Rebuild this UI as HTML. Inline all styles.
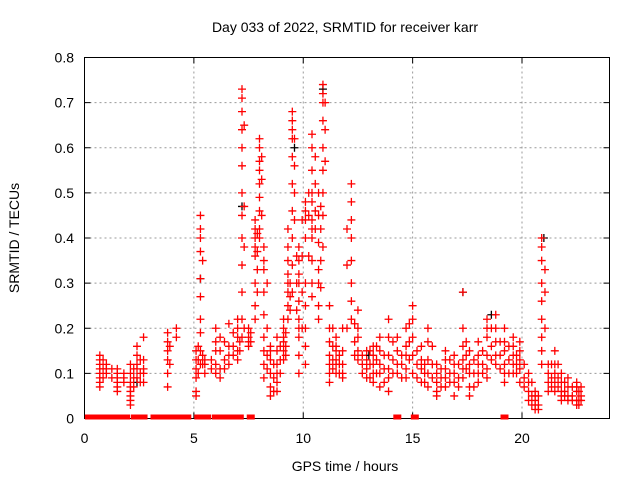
<!DOCTYPE html>
<html><head><meta charset="utf-8"><style>
body{margin:0;background:#fff;}
svg text{font-family:"Liberation Sans",sans-serif;font-size:14px;fill:#000;}
</style></head><body>
<svg id="chart" width="640" height="480" xmlns="http://www.w3.org/2000/svg">
<text x="345" y="32" text-anchor="middle">Day 033 of 2022, SRMTID for receiver karr</text>
<text x="345" y="471" text-anchor="middle">GPS time / hours</text>
<text transform="translate(19,238) rotate(-90)" text-anchor="middle">SRMTID / TECUs</text>
<g id="grid"></g>
<g id="ticks"></g>
<rect x="84.5" y="57.5" width="525" height="361" fill="none" stroke="#000" stroke-width="1"/>
<g id="marks"></g>
</svg>
<script>
const xTicks=[0,5,10,15,20];
const yTicks=[0,0.1,0.2,0.3,0.4,0.5,0.6,0.7,0.8];
const yTickLabels=["0","0.1","0.2","0.3","0.4","0.5","0.6","0.7","0.8"];
const clusterTimes=[0.7,1.0,1.5,1.8,2.1,2.4,2.7,3.8,4.2,5.1,5.3,5.5,6.0,6.2,6.6,7.0,7.2,7.5,7.8,8.0,8.2,8.5,8.8,9.1,9.3,9.5,9.8,10.1,10.4,10.7,10.9,11.2,11.5,11.8,12.2,12.5,12.9,13.2,13.5,13.9,14.3,14.7,15.0,15.4,15.7,16.1,16.5,16.9,17.3,17.6,18.0,18.4,18.8,19.2,19.6,19.9,20.3,20.6,20.9,21.2,21.5,21.8,22.1,22.5,22.7,
0.85,1.25,2.25,2.55,3.9,5.2,5.4,5.8,6.4,6.8,7.1,7.3,7.6,7.9,8.1,8.35,8.65,8.95,9.2,9.4,9.6,9.7,9.95,10.25,10.55,10.8,11.0,11.35,11.65,12.0,12.35,12.7,13.05,13.35,13.7,14.1,14.5,14.85,15.2,15.55,15.9,16.3,16.7,17.1,17.45,17.8,18.2,18.6,19.0,19.4,19.75,20.1,20.45,20.75,21.05,21.35,21.65,21.95,22.3,22.6];
const clusterValues=[
[.14,.12,.10,.08,.07,.13,.11,.09],[.12,.10,.11],[.10,.08,.07,.06,.09,.11],[.09,.10,.08],
[.12,.10,.07,.06,.05,.04,.03,.08],[.14,.12,.09,.16,.11],[.13,.10,.08,.11,.18],[.17,.19,.15,.13,.10,.07],
[.18,.20],[.15,.13,.11,.09,.06,.05],[.45,.42,.40,.37,.31,.27,.22,.19,.15,.12],[.12,.13,.10],
[.20,.17,.15,.12,.10],[.18,.15,.11,.09],[.16,.14,.12,.21],[.15,.13,.18,.20,.22],
[.73,.71,.68,.64,.60,.56,.50,.45,.40,.34,.28,.22,.18],[.20,.18,.17,.16],[.42,.40,.38,.44,.36,.30,.25,.22],
[.62,.60,.57,.55,.52,.49,.46,.42,.40],[.38,.35,.33,.28,.23,.18,.15,.12,.09],[.07,.05,.10,.13,.16,.15],
[.12,.10,.08,.06,.15,.18],[.20,.18,.17,.15,.13,.22],[.25,.30,.35,.28,.32,.38,.42,.22],
[.68,.66,.64,.62,.58,.52,.46,.40,.34,.28],[.38,.35,.32,.30,.26,.22,.20,.18,.14,.10],
[.48,.46,.44,.40,.30,.25,.20,.16,.12],[.63,.60,.55,.50,.48,.44,.42,.40,.35,.30,.27],
[.50,.45,.39,.33,.30,.25,.22],[.74,.72,.70,.66,.60,.55,.50,.45,.38],[.25,.20,.17,.14,.12,.10,.08],
[.18,.16,.15,.13,.12,.10],[.20,.15,.12,.10,.09],[.52,.48,.44,.40,.35,.30,.26,.22],[.24,.20,.18,.15,.13],
[.15,.13,.11,.09],[.14,.12,.10,.08,.16],[.18,.15,.12,.10,.07],[.22,.18,.14,.11,.09,.06],
[.18,.15,.12,.10],[.20,.16,.14,.11,.09],[.25,.22,.18,.14,.10],[.16,.13,.11,.08],[.20,.17,.13,.10,.07],
[.12,.10,.08,.06,.05],[.15,.13,.11,.09,.07],[.14,.12,.10,.08,.05],[.28,.20,.16,.13,.11,.09],
[.15,.12,.10,.07,.05],[.17,.14,.12,.10,.08],[.22,.20,.18,.14,.11,.09],[.23,.20,.17,.14,.12],
[.20,.17,.15,.12,.10,.08],[.18,.16,.14,.12,.10],[.17,.15,.13,.11,.08],[.10,.08,.06,.04],
[.06,.04,.03,.02,.05],[.40,.38,.35,.30,.26,.22,.18,.15,.12],[.10,.08,.06,.12],[.15,.12,.10,.08,.06],
[.10,.08,.06,.05,.04],[.09,.07,.05,.04],[.08,.06,.04,.03,.07],[.07,.05,.04],
[.13,.11,.09],[.11,.09],[.11,.09,.07],[.13,.10,.08],[.16,.12],[.16,.13,.10],[.35,.14,.12],[.13,.11],
[.17,.13,.11],[.19,.16,.14],[.17,.15],[.65,.47,.38,.20],[.19,.17],[.41,.37,.33,.28],[.58,.53,.45],
[.30,.20,.14,.11],[.12,.09,.06],[.16,.13,.10],[.19,.16,.14],[.30,.27,.24],[.62,.56,.50,.44],[.36,.30,.24],
[.44,.36,.28,.20],[.50,.45,.36],[.58,.52,.46,.42],[.47,.42,.35,.29],[.70,.64,.57],[.20,.16,.13,.11],
[.14,.12,.10],[.42,.34,.20],[.21,.17,.14],[.14,.12,.10],[.15,.12,.09],[.16,.13,.10],[.14,.11,.08],
[.17,.13,.10],[.14,.12,.09],[.21,.17,.13],[.15,.12,.09],[.12,.10,.08],[.16,.12,.09],[.11,.09,.07],
[.13,.10,.08],[.12,.09,.07],[.17,.14,.11],[.13,.10,.07],[.15,.12,.10],[.20,.16,.13],[.17,.14,.11],
[.16,.13,.10],[.14,.12,.10],[.12,.09,.07],[.08,.05,.03],[.05,.03,.02],[.33,.28,.20],[.12,.09,.07],
[.12,.09,.07],[.08,.06,.05],[.07,.05,.04],[.06,.04,.03]];
const zeroTimes=[0.2,0.3,0.4,0.6,0.9,1.0,1.1,1.3,1.5,1.6,1.7,1.9,2.3,2.5,2.7,3.2,3.3,3.6,3.8,4.0,4.2,4.3,4.5,4.7,5.2,5.4,5.6,6.0,6.2,6.4,6.6,6.8,7.1,7.6,14.3,15.1,19.2];
const blackTimes=[5.3,7.2,9.6,10.9,17.3,18.6,2.4,13.0,21.0];
const blackValues=[.31,.47,.60,.73,.28,.23,.08,.14,.40];
const X0=84.5,X1=609.5,Y0=418.5,Y1=57.5,XMAX=24,YMAX=0.8;
const sx=t=>X0+(X1-X0)*t/XMAX, sy=v=>Y0-(Y0-Y1)*v/YMAX;
const NS="http://www.w3.org/2000/svg";
const grid=document.getElementById('grid'),ticks=document.getElementById('ticks'),marks=document.getElementById('marks');
function ln(p,x1,y1,x2,y2,st,da){const l=document.createElementNS(NS,'line');l.setAttribute('x1',x1);l.setAttribute('y1',y1);l.setAttribute('x2',x2);l.setAttribute('y2',y2);l.setAttribute('stroke',st);if(da)l.setAttribute('stroke-dasharray',da);p.appendChild(l);return l;}
function tx(x,y,s,a){const t=document.createElementNS(NS,'text');t.setAttribute('x',x);t.setAttribute('y',y);t.setAttribute('text-anchor',a);t.textContent=s;ticks.appendChild(t);return t;}
xTicks.forEach(v=>{const x=sx(v);
 const g=ln(grid,x,Y0,x,Y1,'#999','2,3');
 ln(ticks,x,Y0,x,Y0-6,'#000');ln(ticks,x,Y1,x,Y1+6,'#000');
 const t=tx(x,443,String(v),'middle');});
yTicks.forEach((v,i)=>{const y=sy(v);
 const g=ln(grid,X0,y,X1,y,'#999','2,3');
 ln(ticks,X0,y,X0+6,y,'#000');ln(ticks,X1,y,X1-6,y,'#000');
 const t=tx(74,y+5,yTickLabels[i],'end');});
function plus(t,v,c){const x=sx(t),y=sy(v);const p=document.createElementNS(NS,'path');
 p.setAttribute('d',`M${x-4},${y}H${x+4}M${x},${y-4}V${Math.min(y+4,Y0)}`);p.setAttribute('stroke',c);p.setAttribute('stroke-width','1.3');
 
 
 marks.appendChild(p);}
function zeroMark(t){const x=sx(t);const r=document.createElementNS(NS,'rect');
 r.setAttribute('x',x-4);r.setAttribute('y',Y0-4);r.setAttribute('width',8);r.setAttribute('height',5);r.setAttribute('fill','#f00');
 
 
 marks.appendChild(r);}
blackTimes.forEach((t,i)=>plus(t,blackValues[i],'#000'));
clusterTimes.forEach((t,i)=>clusterValues[i].forEach(v=>plus(t,v,'#f00')));
zeroTimes.forEach(t=>zeroMark(t));
</script>
</body></html>
